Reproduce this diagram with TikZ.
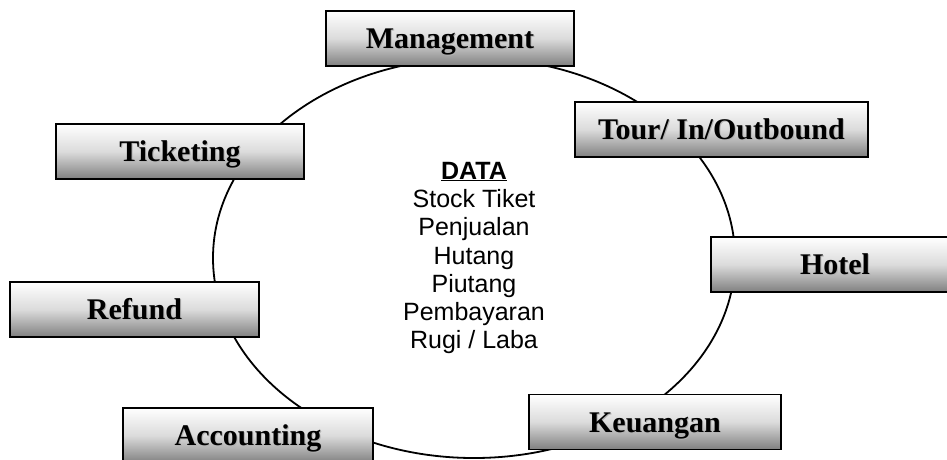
\documentclass[tikz,border=0pt]{standalone}
\usepackage{fontspec}
\setmainfont{Liberation Serif}
\setsansfont{Liberation Sans}
\usetikzlibrary{shapes.geometric}

\newcommand{\shadowlabel}[1]{\makebox[0pt][l]{\kern1pt\raisebox{-1pt}{\textcolor{black!30}{#1}}}#1}

\begin{document}
\begin{tikzpicture}[x=1pt, y=-1pt,
  unitbox/.style = {draw, line width=1.6pt, minimum height=55pt, minimum width=#1,
    inner sep=0pt, text height=20pt, text depth=0pt,
    top color=white, bottom color=black!50, middle color=black!14,
    font=\fontsize{30}{34}\selectfont\bfseries},
  ring/.style = {draw, ellipse, line width=1.8pt, inner sep=0pt,
    minimum width=522pt, minimum height=400pt}]
\useasboundingbox (0,0) rectangle (947,459);
\clip (0,0) rectangle (947,459);
\node[ring] (ring) at (474,258) {};
\node[align=center, font=\sffamily\fontsize{25}{28.3}\selectfont] (data) at (474,258)
  {\textbf{\underline{DATA}}\\Stock Tiket\\Penjualan\\Hutang\\Piutang\\Pembayaran\\Rugi / Laba};

\node[unitbox=248pt] (mgmt)   at (450,38.5)  {\shadowlabel{Management}};
\node[unitbox=293pt] (tour)   at (721.5,129.5) {\shadowlabel{Tour/ In/Outbound}};
\node[unitbox=248pt] (tick)   at (180,151.5) {\shadowlabel{Ticketing}};
\node[unitbox=248pt] (hotel)  at (835,264.5) {\shadowlabel{Hotel}};
\node[unitbox=249pt] (refund) at (134.5,309.5) {\shadowlabel{Refund}};
\node[unitbox=250pt] (acct)   at (248,435.5) {\shadowlabel{Accounting}};
\node[unitbox=252pt] (keu)    at (655,422)   {\shadowlabel{Keuangan}};
\end{tikzpicture}
\end{document}
